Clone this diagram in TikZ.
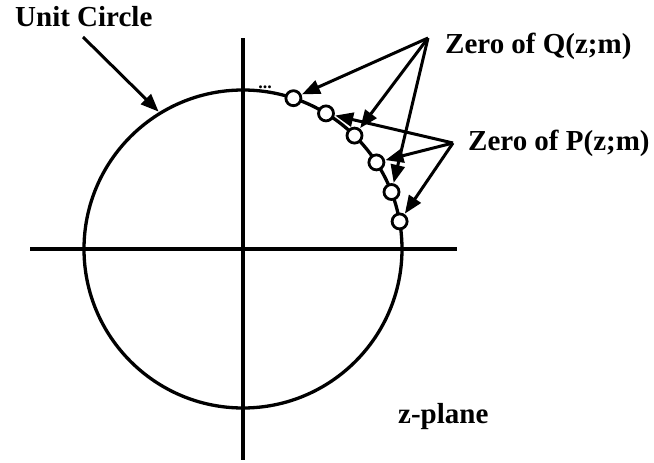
\documentclass[tikz,border=0pt]{standalone}
\usepackage{fontspec}
\setmainfont{Liberation Serif}
\usetikzlibrary{arrows.meta}
\begin{document}
\begin{tikzpicture}[x=1pt,y=-1pt,
  ax/.style={line width=3.2pt},
  zero/.style={circle,draw,fill=white,line width=2.8pt,inner sep=0pt,minimum size=15pt},
  lbl/.style={anchor=base west,inner sep=0pt,font=\fontsize{29}{31}\selectfont\bfseries},
  arr/.style={line width=3pt,-{Triangle[length=18pt,width=14pt]},shorten >=0.5pt}]
\useasboundingbox (0,0) rectangle (654,463);
\coordinate (o) at (243,249);
% axes
\coordinate (yt) at (243,38);
\coordinate (yb) at (243,460);
\coordinate (xl) at (30,249);
\coordinate (xr) at (457,249);
\draw[ax] (yt) -- (yb);
\draw[ax] (xl) -- (xr);
% unit circle
\draw[line width=3.3pt] (o) circle[radius=159];
% zeros
\node[zero] (z1) at (293.4,98.2) {};
\node[zero] (z2) at (326.0,113.4) {};
\node[zero] (z3) at (354.5,135.6) {};
\node[zero] (z4) at (376.4,162.4) {};
\node[zero] (z5) at (391.5,192.0) {};
\node[zero] (z6) at (399.6,221.4) {};
\node[anchor=base,inner sep=0pt,font=\fontsize{18}{18}\selectfont\bfseries] (dots) at (265,88) {...};
% labels
\node[lbl] (uc) at (15,27) {Unit Circle};
\node[lbl] (q) at (445,53) {Zero of Q(z;m)};
\node[lbl] (p) at (468,150) {Zero of P(z;m)};
\node[lbl] (zp) at (398,423) {z-plane};
% arrows
\coordinate (ucs) at (83,37);
\coordinate (uct) at (159,112);
\draw[arr] (ucs) -- (uct);
\coordinate (qa) at (428,38);
\coordinate (pa) at (453,143);
\draw[arr] (qa) -- (z1);
\draw[arr] (qa) -- (z3);
\draw[arr] (qa) -- (z5);
\draw[arr] (pa) -- (z2);
\draw[arr] (pa) -- (z4);
\draw[arr] (pa) -- (z6);
\end{tikzpicture}
\end{document}
